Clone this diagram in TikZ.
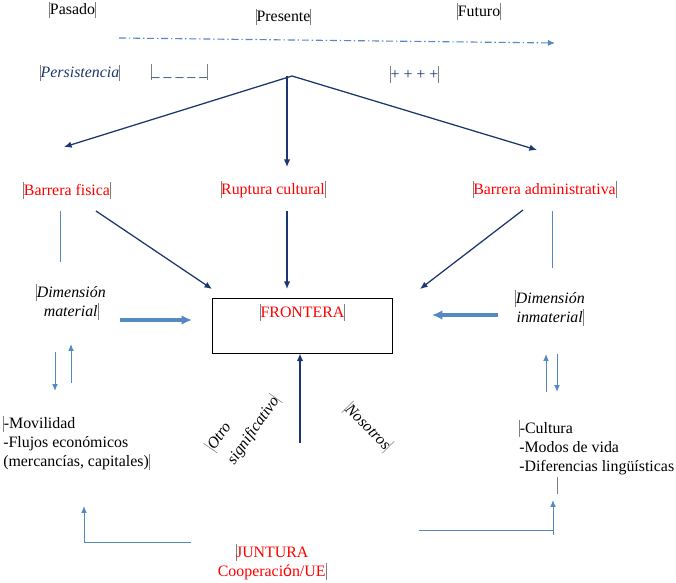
\documentclass[tikz,border=0pt]{standalone}
\usepackage{fontspec}
\setmainfont{Liberation Serif}
\newfontfamily\sansfb{Liberation Sans}
\usetikzlibrary{arrows.meta}
\definecolor{navy}{RGB}{28,55,110}
\definecolor{lblue}{RGB}{84,137,196}
\newcommand{\mk}{{\color{gray}\rule[-0.22em]{0.4pt}{1.05em}}}

\begin{document}
\fontsize{11.3}{13.5}\selectfont
\begin{tikzpicture}[x=0.025cm, y=0.025cm, inner sep=0pt,
    nv/.style={navy, line width=0.9pt, -{Latex[length=1.9mm,width=1.6mm]}},
    lb/.style={lblue, line width=0.7pt},
    lba/.style={lb, -{Latex[length=1.7mm,width=1.4mm]}},
    thk/.style={lblue, line width=2.2pt, -{Latex[length=2.6mm,width=2.4mm]}}]
    \useasboundingbox (0,0) rectangle (676,-583);

    \node (Pas) at (72.5,-10) {\mk Pasado\mk};
    \node (Pres) at (283.5,-17) {\mk Presente\mk};
    \node (Fut) at (479,-11.5) {\mk Futuro\mk};
    \coordinate (T0) at (119,-38);
    \coordinate (T1) at (555,-43);
    \draw[lblue, line width=0.8pt, dash pattern=on 5pt off 2pt on 1pt off 2pt, -{Latex[length=1.8mm,width=1.6mm]}] (T0) -- (T1);

    \node[navy, font=\itshape] (Pers) at (80,-73) {\mk Persistencia\mk};
    \node[navy] (Menos) at (179.5,-72) {\mk\_ \_ \_ \_ \_\mk};
    \node[navy] (Mas) at (414.5,-74.5) {\mk+ + + +\mk};

    \coordinate (Apex) at (292,-76);
    \coordinate (A1) at (64,-147);
    \coordinate (A2) at (287,-167);
    \coordinate (A3) at (537,-150);
    \draw[nv] (Apex) -- (A1);
    \draw[nv] (Apex -| A2) -- (A2);
    \draw[nv] (Apex) -- (A3);

    \node[red] (BarFis) at (67,-190.5) {\mk Barrera fisica\mk};
    \node[red] (Rupt) at (273,-189.5) {\mk Ruptura cultural\mk};
    \node[red] (BarAdm) at (544.5,-189.5) {\mk Barrera administrativa\mk};

    \coordinate (B1) at (96,-211);
    \coordinate (B2) at (212,-289);
    \coordinate (B3) at (287,-211);
    \coordinate (B4) at (287,-289);
    \coordinate (B5) at (523,-210);
    \coordinate (B6) at (420,-289);
    \draw[nv] (B1) -- (B2);
    \draw[nv] (B3) -- (B4);
    \draw[nv] (B5) -- (B6);

    \coordinate (L1) at (60,-211);
    \coordinate (L2) at (60,-262);
    \coordinate (L3) at (552,-211);
    \coordinate (L4) at (552,-268);
    \draw[lb] (L1) -- (L2);
    \draw[lb] (L3) -- (L4);

    \node[draw, line width=0.7pt, minimum width=4.475cm, minimum height=1.375cm] (Box) at (302.5,-325.5) {};
    \node[red] (Front) at (302.5,-312.5) {\mk FRONTERA\mk};

    \node[font=\itshape, align=center] (DimMat) at (71,-302) {\mk Dimensión\\material\mk};
    \node[font=\itshape, align=center] (DimInm) at (550,-308) {\mk Dimensión\\inmaterial\mk};
    \coordinate (M0) at (120,-320);
    \coordinate (M1) at (192,-320);
    \coordinate (I0) at (498,-315);
    \coordinate (I1) at (432,-315);
    \draw[thk] (M0) -- (M1);
    \draw[thk] (I0) -- (I1);

    \coordinate (D1) at (55,-352);
    \coordinate (D2) at (55,-391);
    \coordinate (D3) at (71,-383);
    \coordinate (D4) at (71,-344);
    \coordinate (D5) at (546,-392);
    \coordinate (D6) at (546,-354);
    \coordinate (D7) at (557,-354);
    \coordinate (D8) at (557,-392);
    \draw[lba] (D1) -- (D2);
    \draw[lba] (D3) -- (D4);
    \draw[lba] (D5) -- (D6);
    \draw[lba] (D7) -- (D8);

    \coordinate (U0) at (300,-443);
    \draw[nv] (U0) -- (U0 |- Box.south);

    \node[align=left, anchor=west] (ListMat) at (3,-443) {\mk-Movilidad\\-Flujos económicos\\(mercancías, capitales)\mk};
    \node[align=left, anchor=north west] (ListInm) at (519,-419.7) {\mk-Cultura\\-Modos de vida\\-Diferencias lingüísticas\\\hspace*{0.95cm}\mk};

    \node[font=\itshape, align=left, rotate=55] (Otro) at (243,-423) {\mk Otro\\[4pt]significativo\mk};
    \node[font=\itshape, rotate=-45] (Nos) at (368,-427) {\mk Nosotros\mk};

    \node[red, align=center] (Junt) at (272,-562) {\mk JUNTURA\\Cooperaci{\sansfb ó}n/UE\mk};
    \coordinate (J1) at (191,-542);
    \coordinate (J2) at (84,-506);
    \coordinate (J3) at (419,-530);
    \coordinate (J4) at (553,-500);
    \coordinate (J5) at (553,-535);
    \draw[lba] (J1) -| (J2);
    \draw[lb] (J3) -- (J3 -| J5);
    \draw[lba] (J5) -- (J4);
\end{tikzpicture}
\end{document}
